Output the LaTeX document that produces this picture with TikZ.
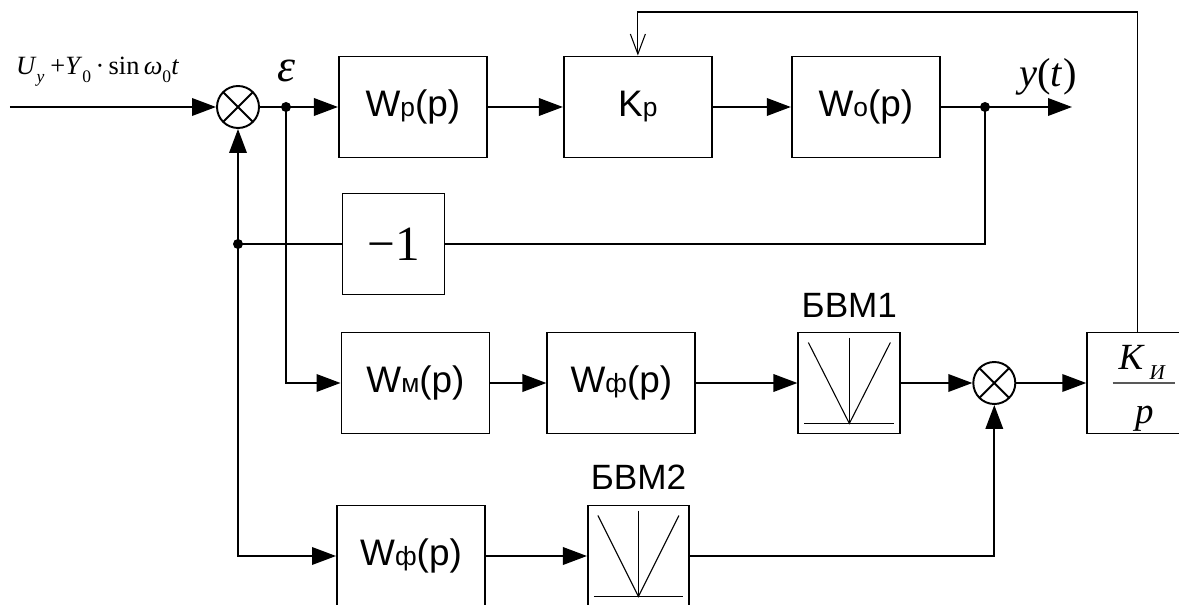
\documentclass[tikz,border=0pt]{standalone}
\usepackage{fontspec}
\setmainfont{Liberation Serif}
\setsansfont{Liberation Sans}
\usetikzlibrary{arrows.meta,positioning}

\newcommand{\lsub}[1]{{\fontsize{15}{15}\selectfont #1}}
\newcommand{\msub}[1]{\raisebox{-0.15cm}{\fontsize{10}{10}\selectfont #1}}

\begin{document}
\begin{tikzpicture}[
    node distance=1.5cm,
    box/.style={draw, line width=1.1pt, minimum width=2.96cm, minimum height=2.02cm, inner sep=0pt, font=\sffamily\fontsize{21}{24}\selectfont},
    sq/.style={box, minimum width=2.04cm},
    bvm/.style={sq, path picture={
        \draw[line width=0.6pt] ([shift={(0.2,-0.2)}]path picture bounding box.north west) -- ([yshift=0.2cm]path picture bounding box.south) -- ([shift={(-0.2,-0.2)}]path picture bounding box.north east);
        \draw[line width=0.6pt] ([yshift=-0.1cm]path picture bounding box.north) -- ([yshift=0.2cm]path picture bounding box.south);
        \draw[line width=0.6pt] ([shift={(0.12,0.2)}]path picture bounding box.south west) -- ([shift={(-0.12,0.2)}]path picture bounding box.south east);
    }},
    summer/.style={draw, circle, line width=1.1pt, minimum size=0.84cm, inner sep=0pt, path picture={
        \draw[line width=1.1pt] (path picture bounding box.south west) -- (path picture bounding box.north east)
            (path picture bounding box.north west) -- (path picture bounding box.south east);
    }},
    lbl/.style={font=\sffamily\fontsize{20}{24}\selectfont},
    link/.style={-{Triangle[length=0.48cm, width=0.35cm]}, line width=1.1pt},
    wire/.style={line width=1.1pt},
    fbline/.style={-{Straight Barb[length=0.4cm, width=0.3cm]}, line width=0.6pt}
]
\useasboundingbox (0,0) rectangle (23.58,-12.1);
\clip (0,0) rectangle (23.58,-12.1);

% main channel
\node[summer] (sum1) at (4.76,-2.14) {};
\node[box, right=1.56cm of sum1] (wp) {W\lsub{р}(p)};
\node[box, right=of wp] (kp) {K\lsub{р}};
\node[box, right=1.56cm of kp] (wo) {W\lsub{о}(p)};
\node[sq, font=\fontsize{28}{30}\selectfont] (m1) at (7.87,-4.88) {−1};

\coordinate (in) at (0.2,-2.14);
\coordinate (e) at (5.72,-2.14);
\coordinate (out) at (19.7,-2.14);
\coordinate (yend) at (21.44,-2.14);
\coordinate (fb) at (sum1 |- m1);
\coordinate (top) at (0,-0.24);

\node[anchor=base west, font=\fontsize{15}{17}\selectfont] (uin) at (0.2,-1.5)
    {\textit{U}\msub{\textit{y}}\hspace{0.12cm}+\textit{Y}\msub{0}\,·\,sin\,\textit{ω}\msub{0}\textit{t}};
\node[above=0.5cm of e, anchor=base, font=\fontsize{26}{28}\selectfont\itshape] (eps) {ε};
\node[anchor=base, font=\fontsize{23}{25}\selectfont] (ylbl) at ([shift={(1.26,0.4)}]out) {\textit{y}(\textit{t})};

% search channels
\node[box] (wm) at (8.31,-7.66) {W\lsub{м}(p)};
\node[box, right=1.12cm of wm] (wf1) {W\lsub{ф}(p)};
\node[bvm, right=2.02cm of wf1] (bvm1) {};
\node[summer, right=1.42cm of bvm1] (sum2) {};
\node[sq, minimum width=2.02cm, right=1.4cm of sum2] (ki) {};
\node[box] (wf2) at (8.22,-11.12) {W\lsub{ф}(p)};
\node[bvm, minimum width=2.02cm, right=2.02cm of wf2] (bvm2) {};
\node[lbl, above=0.28cm of bvm1.north, anchor=base] (bvm1lbl) {БВМ1};
\node[lbl, above=0.3cm of bvm2.north, anchor=base] (bvm2lbl) {БВМ2};

\node[anchor=base, font=\fontsize{21}{23}\selectfont\itshape] (kinum) at ([shift={(0.08,0.28)}]ki.center)
    {K\,\raisebox{-0.2cm}{\fontsize{12}{12}\selectfont И}};
\draw[line width=0.8pt, black!65] ([xshift=-0.5cm]ki.center) -- ([xshift=0.75cm]ki.center);
\node[anchor=base, font=\fontsize{21}{23}\selectfont\itshape] (kiden) at ([shift={(0.13,-0.8)}]ki.center) {p};

% connections
\draw[link] (in) -- (sum1);
\draw[wire] (sum1) -- (e);
\draw[link] (e) -- (wp);
\draw[link] (wp) -- (kp);
\draw[link] (kp) -- (wo);
\draw[wire] (wo) -- (out);
\draw[link] (out) -- (yend);
\draw[wire] (out) |- (m1);
\draw[wire] (m1) -- (fb);
\draw[link] (fb) -- (sum1);
\draw[link] (fb) |- (wf2);
\draw[link] (e) |- (wm);
\draw[link] (wm) -- (wf1);
\draw[link] (wf1) -- (bvm1);
\draw[link] (bvm1) -- (sum2);
\draw[link] (sum2) -- (ki);
\draw[link] (wf2) -- (bvm2);
\draw[link] (bvm2) -| (sum2);
\draw[fbline] (ki.north) -- (ki.north |- top) -- (kp.north |- top) -- (kp.north);

\fill (e) circle (0.1cm);
\fill (out) circle (0.1cm);
\fill (fb) circle (0.1cm);
\end{tikzpicture}
\end{document}
